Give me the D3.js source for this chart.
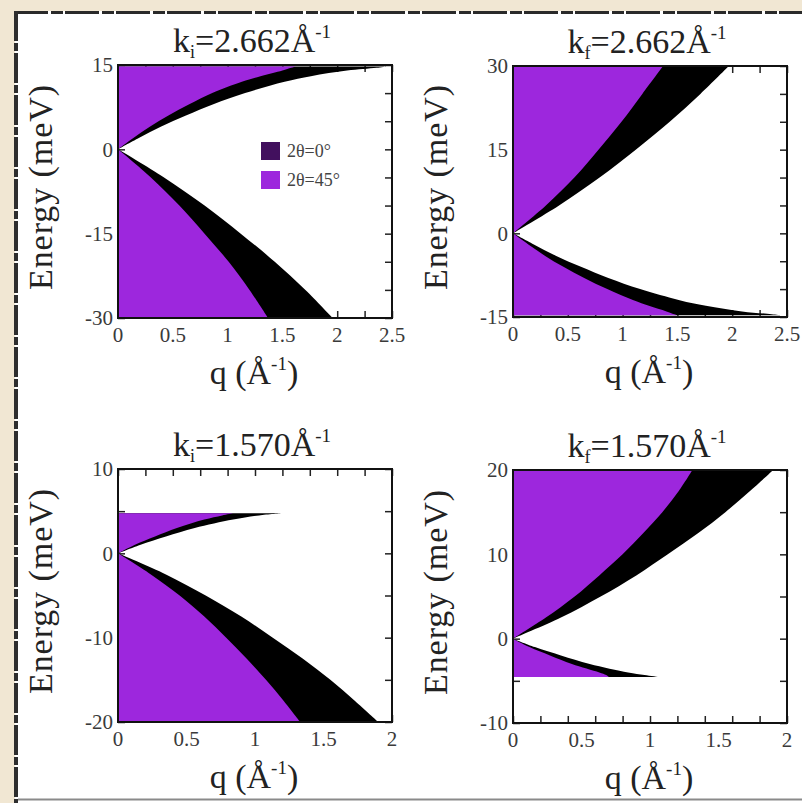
<!DOCTYPE html>
<html>
<head>
<meta charset="utf-8">
<script src="https://cdn.jsdelivr.net/npm/d3@7"></script>
<style>
    html, body { margin: 0; padding: 0; background: #f1e7d3; }
    svg { display: block; }
    text { font-family: "Liberation Serif", "DejaVu Serif", serif; }
</style>
</head>
<body>
<div id="chart"></div>
<script>
// ---- data (q in 1/Å, E in meV) ----

// panel 1: k_i = 2.662
const kiHighUpE = [0, 2, 4, 6, 8, 10, 12, 13, 14, 14.5, 14.75];
const kiHighUpBlack = [0, 0.19, 0.39, 0.62, 0.87, 1.16, 1.52, 1.76, 2.09, 2.36, 2.45];
const kiHighUpPurple = [0, 0.14, 0.29, 0.46, 0.65, 0.86, 1.13, 1.30, 1.50, 1.58, 1.62];
const kiHighDownE = [0, -5, -10, -15, -20, -25, -30];
const kiHighDownBlack = [0, 0.42, 0.79, 1.12, 1.43, 1.71, 1.96];
const kiHighDownPurple = [0, 0.30, 0.56, 0.79, 1.01, 1.20, 1.37];

// panel 2: k_f = 2.662
const kfHighUpE = [0, 5, 10, 15, 20, 25, 30];
const kfHighUpBlack = [0, 0.42, 0.79, 1.12, 1.43, 1.71, 1.97];
const kfHighUpPurple = [0, 0.30, 0.56, 0.78, 0.99, 1.18, 1.37];
const kfHighDownE = [0, -2, -4, -6, -8, -10, -12, -13, -14, -14.5, -14.7];
const kfHighDownBlack = [0, 0.19, 0.39, 0.62, 0.87, 1.16, 1.52, 1.76, 2.09, 2.36, 2.45];
const kfHighDownPurple = [0, 0.14, 0.29, 0.46, 0.65, 0.86, 1.10, 1.24, 1.40, 1.47, 1.50];

// panel 3: k_i = 1.570
const kiLowUpE = [0, 1, 2, 3, 4, 4.5, 4.75];
const kiLowUpBlack = [0, 0.16, 0.35, 0.56, 0.84, 1.03, 1.20];
const kiLowUpPurple = [0, 0.12, 0.27, 0.43, 0.63, 0.76, 0.84];
const kiLowDownE = [0, -2.5, -5, -7.5, -10, -12.5, -15, -17.5, -20];
const kiLowDownBlack = [0, 0.35, 0.64, 0.90, 1.13, 1.35, 1.55, 1.73, 1.90];
const kiLowDownPurple = [0, 0.24, 0.45, 0.63, 0.79, 0.94, 1.08, 1.21, 1.33];

// panel 4: k_f = 1.570
const kfLowUpE = [0, 2.5, 5, 7.5, 10, 12.5, 15, 17.5, 20];
const kfLowUpBlack = [0, 0.35, 0.64, 0.90, 1.13, 1.35, 1.55, 1.73, 1.90];
const kfLowUpPurple = [0, 0.24, 0.45, 0.63, 0.80, 0.95, 1.09, 1.21, 1.31];
const kfLowDownE = [0, -1, -2, -3, -4, -4.3, -4.55];
const kfLowDownBlack = [0, 0.16, 0.35, 0.56, 0.84, 0.96, 1.07];
const kfLowDownPurple = [0, 0.12, 0.27, 0.43, 0.63, 0.68, 0.70];

// axes
const panelSub = ["i", "f", "i", "f"];
const panelK = ["2.662", "2.662", "1.570", "1.570"];
const qDomains = [[0, 2.5], [0, 2.5], [0, 2], [0, 2]];
const eDomains = [[-30, 15], [-15, 30], [-20, 10], [-10, 20]];
const eTickLabels = [[15, 0, -15, -30], [30, 15, 0, -15], [10, 0, -10, -20], [20, 10, 0, -10]];
const qTickLabels = [[0, 0.5, 1, 1.5, 2, 2.5], [0, 0.5, 1, 1.5, 2, 2.5], [0, 0.5, 1, 1.5, 2], [0, 0.5, 1, 1.5, 2]];
const qMinorStep = [0.25, 0.25, 0.2, 0.2];
const eMinorStep = 5;

const legendLabels = ["2θ=0°", "2θ=45°"];

const purple = "#9d27dd";
const legendDark = "#42105e";

const branches = [
    [[kiHighUpE, kiHighUpBlack, kiHighUpPurple], [kiHighDownE, kiHighDownBlack, kiHighDownPurple]],
    [[kfHighUpE, kfHighUpBlack, kfHighUpPurple], [kfHighDownE, kfHighDownBlack, kfHighDownPurple]],
    [[kiLowUpE, kiLowUpBlack, kiLowUpPurple], [kiLowDownE, kiLowDownBlack, kiLowDownPurple]],
    [[kfLowUpE, kfLowUpBlack, kfLowUpPurple], [kfLowDownE, kfLowDownBlack, kfLowDownPurple]]
];

// plot boxes in page pixels
const boxes = [
    {left: 118, top: 65, right: 392, bottom: 318},
    {left: 513, top: 66, right: 787, bottom: 317},
    {left: 118, top: 469, right: 392, bottom: 722},
    {left: 513, top: 470, right: 787, bottom: 723}
];

const W = 802, H = 803;

const svg = d3.select("#chart").append("svg")
    .attr("width", W)
    .attr("height", H);

// page frame
svg.append("rect")
    .attr("x", 15).attr("y", 11)
    .attr("width", W - 15).attr("height", H - 11)
    .attr("fill", "#fff");
svg.append("line")
    .attr("x1", 14).attr("x2", W).attr("y1", 12.5).attr("y2", 12.5)
    .attr("stroke", "#2a2a2a").attr("stroke-width", 3)
    .attr("stroke-dasharray", "34 3 12 2");
svg.append("line")
    .attr("x1", 16).attr("x2", 16).attr("y1", 11).attr("y2", H)
    .attr("stroke", "#2e2e2e").attr("stroke-width", 4)
    .attr("stroke-dasharray", "30 2 8 2");
svg.append("line")
    .attr("x1", 18).attr("x2", W).attr("y1", 799.5).attr("y2", 799.5)
    .attr("stroke", "#8a8a8a").attr("stroke-width", 2);

boxes.forEach((b, i) => drawPanel(i, b));

function drawPanel(i, b) {
    const g = svg.append("g");
    const x = d3.scaleLinear().domain(qDomains[i]).range([b.left, b.right]);
    const y = d3.scaleLinear().domain(eDomains[i]).range([b.bottom, b.top]);

    // inward ticks (drawn first, fills cover them)
    const qTicks = d3.range(qDomains[i][0], qDomains[i][1] + 1e-9, qMinorStep[i]);
    const eTicks = d3.range(eDomains[i][0], eDomains[i][1] + 1e-9, eMinorStep);
    const tickLen = 7;

    g.append("g").call(d3.axisBottom(x).tickValues(qTicks).tickSize(-tickLen).tickFormat(""))
        .attr("transform", `translate(0,${b.bottom})`);
    g.append("g").call(d3.axisTop(x).tickValues(qTicks).tickSize(-tickLen).tickFormat(""))
        .attr("transform", `translate(0,${b.top})`);
    g.append("g").call(d3.axisLeft(y).tickValues(eTicks).tickSize(-tickLen).tickFormat(""))
        .attr("transform", `translate(${b.left},0)`);
    g.append("g").call(d3.axisRight(y).tickValues(eTicks).tickSize(-tickLen).tickFormat(""))
        .attr("transform", `translate(${b.right},0)`);
    g.selectAll(".domain").remove();
    g.selectAll(".tick line").attr("stroke", "#222").attr("stroke-width", 1.5);

    // filled regions: black edge first, purple on top
    branches[i].forEach(([es, black, purp]) => {
        const area = d3.area()
            .y(d => y(d[0]))
            .x0(x(0))
            .x1(d => x(d[1]))
            .curve(d3.curveCatmullRom);
        g.append("path")
            .attr("d", area(es.map((e, k) => [e, black[k]])))
            .attr("fill", "#000");
        g.append("path")
            .attr("d", area(es.map((e, k) => [e, purp[k]])))
            .attr("fill", purple);
    });

    // frame
    g.append("rect")
        .attr("x", b.left).attr("y", b.top)
        .attr("width", b.right - b.left).attr("height", b.bottom - b.top)
        .attr("fill", "none")
        .attr("stroke", "#111")
        .attr("stroke-width", 2);

    // tick labels
    g.append("g").selectAll("text")
        .data(eTickLabels[i])
        .enter().append("text")
        .attr("x", b.left - 5)
        .attr("y", d => y(d))
        .attr("dy", "0.35em")
        .attr("text-anchor", "end")
        .attr("fill", "#3a3a3a")
        .style("font-size", "21px")
        .text(d => d);

    g.append("g").selectAll("text")
        .data(qTickLabels[i])
        .enter().append("text")
        .attr("x", d => x(d))
        .attr("y", b.bottom + 24)
        .attr("text-anchor", "middle")
        .attr("fill", "#3a3a3a")
        .style("font-size", "21px")
        .text(d => d);

    // title  k_i=2.662Å^-1
    const cx = (b.left + b.right) / 2 - 3;
    const title = g.append("text")
        .attr("x", cx)
        .attr("y", b.top - 13)
        .attr("text-anchor", "middle")
        .attr("fill", "#222")
        .style("font-size", "34px");
    title.append("tspan").text("k");
    title.append("tspan").attr("dy", 6).style("font-size", "18px").text(panelSub[i]);
    title.append("tspan").attr("dy", -6).text("=" + panelK[i] + "Å");
    title.append("tspan").attr("dy", -14).style("font-size", "19px").text("-1");

    // y label
    g.append("text")
        .attr("transform", `translate(${b.left - 66},${(b.top + b.bottom) / 2 - 4}) rotate(-90)`)
        .attr("text-anchor", "middle")
        .attr("fill", "#222")
        .attr("textLength", 205)
        .attr("lengthAdjust", "spacing")
        .style("font-size", "34px")
        .text("Energy (meV)");

    // x label  q (Å^-1)
    const xl = g.append("text")
        .attr("x", cx + 2)
        .attr("y", b.bottom + 66)
        .attr("text-anchor", "middle")
        .attr("fill", "#222")
        .style("font-size", "34px");
    xl.append("tspan").text("q (Å");
    xl.append("tspan").attr("dy", -14).style("font-size", "19px").text("-1");
    xl.append("tspan").attr("dy", 14).text(")");

    // legend in first panel
    if (i === 0) {
        const lg = g.append("g");
        [legendDark, purple].forEach((c, k) => {
            lg.append("rect")
                .attr("x", 261).attr("y", 142 + k * 29)
                .attr("width", 19).attr("height", 18)
                .attr("fill", c);
            lg.append("text")
                .attr("x", 287).attr("y", 157 + k * 29)
                .attr("fill", "#444")
                .style("font-size", "18px")
                .text(legendLabels[k]);
        });
    }
}
</script>
</body>
</html>
